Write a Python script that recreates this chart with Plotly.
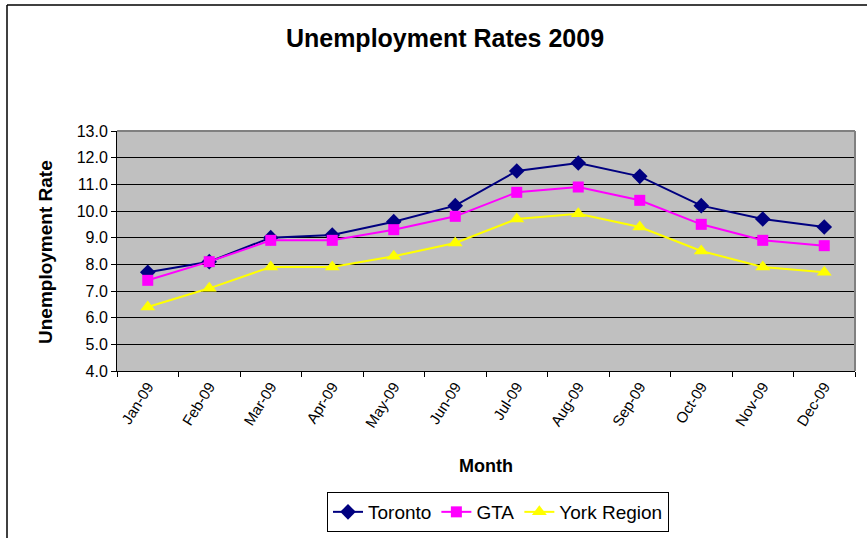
import plotly.graph_objects as go

months = ["Jan-09", "Feb-09", "Mar-09", "Apr-09", "May-09", "Jun-09",
          "Jul-09", "Aug-09", "Sep-09", "Oct-09", "Nov-09", "Dec-09"]
toronto = [7.7, 8.1, 9.0, 9.1, 9.6, 10.2, 11.5, 11.8, 11.3, 10.2, 9.7, 9.4]
gta = [7.4, 8.1, 8.9, 8.9, 9.3, 9.8, 10.7, 10.9, 10.4, 9.5, 8.9, 8.7]
york = [6.4, 7.1, 7.9, 7.9, 8.3, 8.8, 9.7, 9.9, 9.4, 8.5, 7.9, 7.7]

W, H = 867, 538
L, R, T, B = 117, 12, 131, 167
pw, ph = W - L - R, H - T - B

def px_x(x):
    return (x - L) / pw

def px_y(y):
    return (H - B - y) / ph

FONT = "Liberation Sans, Arial, sans-serif"

fig = go.Figure()
fig.add_trace(go.Scatter(x=months, y=toronto, name="Toronto", mode="lines+markers",
                         line=dict(color="#000080", width=2),
                         marker=dict(symbol="diamond", size=12, color="#000080")))
fig.add_trace(go.Scatter(x=months, y=gta, name="GTA", mode="lines+markers",
                         line=dict(color="#FF00FF", width=2),
                         marker=dict(symbol="square", size=11, color="#FF00FF")))
fig.add_trace(go.Scatter(x=months, y=york, name="York Region", mode="lines+markers",
                         line=dict(color="#FFFF00", width=2),
                         marker=dict(symbol="triangle-up", size=13, color="#FFFF00")))

fig.update_layout(
    width=W, height=H,
    margin=dict(l=L, r=R, t=T, b=B, autoexpand=False),
    paper_bgcolor="white",
    plot_bgcolor="#C0C0C0",
    font=dict(family=FONT, color="black", size=15),
    title=dict(text="<b>Unemployment Rates 2009</b>", x=445 / W, xanchor="center",
               y=1 - 38 / H, yanchor="middle", font=dict(size=25, family=FONT)),
    xaxis=dict(type="category", range=[-0.5, 11.5], tickson="boundaries",
               ticks="outside", ticklen=5, tickcolor="black", tickangle=-58,
               showline=True, linecolor="black", linewidth=1, showgrid=False,
               tickfont=dict(size=15), zeroline=False),
    yaxis=dict(range=[4, 13], dtick=1, tickformat=".1f", ticks="outside", ticklen=5,
               tickcolor="black", showline=True, linecolor="black", linewidth=1,
               showgrid=True, gridcolor="black", gridwidth=1, zeroline=False,
               tickfont=dict(size=16)),
    showlegend=True,
    legend=dict(orientation="h", x=px_x(498), xanchor="center", y=px_y(492), yanchor="top",
                bordercolor="black", borderwidth=1, bgcolor="white",
                font=dict(size=19), tracegroupgap=0),
    annotations=[
        dict(text="<b>Unemployment Rate</b>", xref="paper", yref="paper",
             x=px_x(45), y=px_y(252), textangle=-90, showarrow=False,
             font=dict(size=19), xanchor="center", yanchor="middle"),
        dict(text="<b>Month</b>", xref="paper", yref="paper",
             x=px_x(486), y=px_y(466), showarrow=False,
             font=dict(size=18), xanchor="center", yanchor="middle"),
    ],
    shapes=[
        dict(type="line", xref="paper", yref="paper", x0=0, x1=1, y0=1, y1=1,
             line=dict(color="#808080", width=2), layer="above"),
        dict(type="line", xref="paper", yref="paper", x0=1, x1=1, y0=0, y1=1,
             line=dict(color="#808080", width=2), layer="above"),
        dict(type="line", xref="paper", yref="paper", x0=px_x(7), x1=px_x(W + 5),
             y0=px_y(5), y1=px_y(5), line=dict(color="black", width=1.5), layer="above"),
        dict(type="line", xref="paper", yref="paper", x0=px_x(7), x1=px_x(7),
             y0=px_y(5), y1=px_y(H + 5), line=dict(color="black", width=1.5), layer="above"),
    ],
)

fig.write_html("out.html", config={"displayModeBar": False},
               post_script="document.body.style.margin='0';")
